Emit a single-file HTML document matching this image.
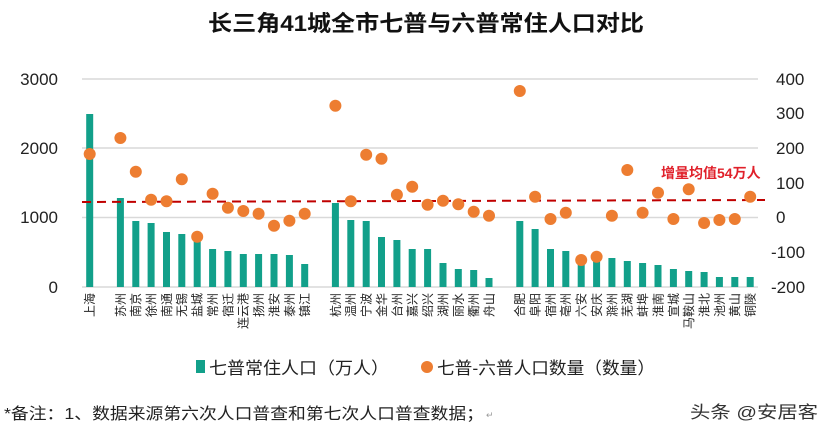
<!DOCTYPE html>
<html><head><meta charset="utf-8"><style>
html,body{margin:0;padding:0;background:#fff;}
svg{display:block;font-family:"Liberation Sans","Noto Sans CJK SC",sans-serif;}
</style></head><body>
<svg width="831" height="436" viewBox="0 0 831 436" xmlns="http://www.w3.org/2000/svg">
<rect width="831" height="436" fill="#fff"/>
<text x="426" y="31" font-size="22" font-weight="bold" text-anchor="middle" fill="#111" textLength="436" lengthAdjust="spacingAndGlyphs">长三角41城全市七普与六普常住人口对比</text>
<g stroke="#d9d9d9" stroke-width="1.5">
<line x1="82" y1="79" x2="758" y2="79"/><line x1="82" y1="148" x2="758" y2="148"/>
<line x1="82" y1="217.5" x2="758" y2="217.5"/><line x1="82" y1="287" x2="758" y2="287"/>
</g>
<g font-size="17" fill="#222" text-anchor="end">
<text x="58" y="85">3000</text><text x="58" y="154">2000</text><text x="58" y="223">1000</text><text x="58" y="293">0</text>
</g>
<g font-size="17" fill="#222">
<text x="776" y="85">400</text><text x="776" y="119">300</text><text x="776" y="154">200</text><text x="776" y="189">100</text><text x="776" y="223">0</text><text x="771" y="258">-100</text><text x="771" y="293">-200</text>
</g>
<g fill="#12a08a">
<rect x="86.2" y="114" width="7" height="173"/>
<rect x="116.9" y="198" width="7" height="89"/><rect x="132.3" y="221" width="7" height="66"/><rect x="147.6" y="223" width="7" height="64"/><rect x="163" y="232" width="7" height="55"/><rect x="178.3" y="234" width="7" height="53"/><rect x="193.7" y="240" width="7" height="47"/><rect x="209.1" y="249" width="7" height="38"/><rect x="224.4" y="251" width="7" height="36"/><rect x="239.8" y="254" width="7" height="33"/><rect x="255.1" y="254" width="7" height="33"/><rect x="270.5" y="254" width="7" height="33"/><rect x="285.9" y="255" width="7" height="32"/><rect x="301.2" y="264" width="7" height="23"/>
<rect x="331.9" y="203" width="7" height="84"/><rect x="347.3" y="220" width="7" height="67"/><rect x="362.7" y="221" width="7" height="66"/><rect x="378" y="237" width="7" height="50"/><rect x="393.4" y="240" width="7" height="47"/><rect x="408.7" y="249" width="7" height="38"/><rect x="424.1" y="249" width="7" height="38"/><rect x="439.5" y="263" width="7" height="24"/><rect x="454.8" y="269" width="7" height="18"/><rect x="470.2" y="270" width="7" height="17"/><rect x="485.5" y="278" width="7" height="9"/>
<rect x="516.3" y="221" width="7" height="66"/><rect x="531.6" y="229" width="7" height="58"/><rect x="547" y="249" width="7" height="38"/><rect x="562.3" y="251" width="7" height="36"/><rect x="577.7" y="256" width="7" height="31"/><rect x="593.1" y="258" width="7" height="29"/><rect x="608.4" y="258" width="7" height="29"/><rect x="623.8" y="261" width="7" height="26"/><rect x="639.1" y="263" width="7" height="24"/><rect x="654.5" y="265" width="7" height="22"/><rect x="669.9" y="269" width="7" height="18"/><rect x="685.2" y="271" width="7" height="16"/><rect x="700.6" y="272" width="7" height="15"/><rect x="715.9" y="277" width="7" height="10"/><rect x="731.3" y="277" width="7" height="10"/><rect x="746.7" y="277" width="7" height="10"/>
</g>
<line x1="82" y1="202" x2="765" y2="200" stroke="#c00000" stroke-width="2" stroke-dasharray="9,6"/>
<text x="661" y="178" font-size="14" font-weight="bold" fill="#e0202a">增量均值54万人</text>
<g fill="#ed7d31">
<circle cx="89.7" cy="154" r="6"/>
<circle cx="120.4" cy="138" r="6"/><circle cx="135.8" cy="171.7" r="6"/><circle cx="151.1" cy="199.7" r="6"/><circle cx="166.5" cy="201.3" r="6"/><circle cx="181.8" cy="179.3" r="6"/><circle cx="197.2" cy="236.7" r="6"/><circle cx="212.6" cy="193.7" r="6"/><circle cx="227.9" cy="207.7" r="6"/><circle cx="243.3" cy="211" r="6"/><circle cx="258.6" cy="213.7" r="6"/><circle cx="274" cy="225.7" r="6"/><circle cx="289.4" cy="220.7" r="6"/><circle cx="304.7" cy="213.7" r="6"/>
<circle cx="335.4" cy="105.7" r="6"/><circle cx="350.8" cy="201.3" r="6"/><circle cx="366.2" cy="154.7" r="6"/><circle cx="381.5" cy="158.7" r="6"/><circle cx="396.9" cy="194.7" r="6"/><circle cx="412.2" cy="186.7" r="6"/><circle cx="427.6" cy="204.7" r="6"/><circle cx="443" cy="200.7" r="6"/><circle cx="458.3" cy="204.3" r="6"/><circle cx="473.7" cy="211.7" r="6"/><circle cx="489" cy="215.7" r="6"/>
<circle cx="519.8" cy="91" r="6"/><circle cx="535.1" cy="196.7" r="6"/><circle cx="550.5" cy="219" r="6"/><circle cx="565.8" cy="212.7" r="6"/><circle cx="581.2" cy="260" r="6"/><circle cx="596.6" cy="256.7" r="6"/><circle cx="611.9" cy="215.7" r="6"/><circle cx="627.3" cy="170" r="6"/><circle cx="642.6" cy="212.7" r="6"/><circle cx="658" cy="192.7" r="6"/><circle cx="673.4" cy="219" r="6"/><circle cx="688.7" cy="189.3" r="6"/><circle cx="704.1" cy="223" r="6"/><circle cx="719.4" cy="220" r="6"/><circle cx="734.8" cy="219" r="6"/><circle cx="750.2" cy="196.7" r="6"/>
</g>
<g font-size="12" fill="#222" text-anchor="end">
<text transform="translate(94,293) rotate(-90)">上海</text>
<text transform="translate(124.8,293) rotate(-90)">苏州</text><text transform="translate(140.2,293) rotate(-90)">南京</text><text transform="translate(155.5,293) rotate(-90)">徐州</text><text transform="translate(170.9,293) rotate(-90)">南通</text><text transform="translate(186.2,293) rotate(-90)">无锡</text><text transform="translate(201.6,293) rotate(-90)">盐城</text><text transform="translate(217,293) rotate(-90)">常州</text><text transform="translate(232.3,293) rotate(-90)">宿迁</text><text transform="translate(247.7,293) rotate(-90)">连云港</text><text transform="translate(263,293) rotate(-90)">扬州</text><text transform="translate(278.4,293) rotate(-90)">淮安</text><text transform="translate(293.8,293) rotate(-90)">泰州</text><text transform="translate(309.1,293) rotate(-90)">镇江</text>
<text transform="translate(339.8,293) rotate(-90)">杭州</text><text transform="translate(355.2,293) rotate(-90)">温州</text><text transform="translate(370.6,293) rotate(-90)">宁波</text><text transform="translate(385.9,293) rotate(-90)">金华</text><text transform="translate(401.3,293) rotate(-90)">台州</text><text transform="translate(416.6,293) rotate(-90)">嘉兴</text><text transform="translate(432,293) rotate(-90)">绍兴</text><text transform="translate(447.4,293) rotate(-90)">湖州</text><text transform="translate(462.7,293) rotate(-90)">丽水</text><text transform="translate(478.1,293) rotate(-90)">衢州</text><text transform="translate(493.4,293) rotate(-90)">舟山</text>
<text transform="translate(524.2,293) rotate(-90)">合肥</text><text transform="translate(539.5,293) rotate(-90)">阜阳</text><text transform="translate(554.9,293) rotate(-90)">宿州</text><text transform="translate(570.2,293) rotate(-90)">亳州</text><text transform="translate(585.6,293) rotate(-90)">六安</text><text transform="translate(601,293) rotate(-90)">安庆</text><text transform="translate(616.3,293) rotate(-90)">滁州</text><text transform="translate(631.7,293) rotate(-90)">芜湖</text><text transform="translate(647,293) rotate(-90)">蚌埠</text><text transform="translate(662.4,293) rotate(-90)">淮南</text><text transform="translate(677.8,293) rotate(-90)">宣城</text><text transform="translate(693.1,293) rotate(-90)">马鞍山</text><text transform="translate(708.5,293) rotate(-90)">淮北</text><text transform="translate(723.8,293) rotate(-90)">池州</text><text transform="translate(739.2,293) rotate(-90)">黄山</text><text transform="translate(754.6,293) rotate(-90)">铜陵</text>
</g>
<rect x="196" y="360" width="9" height="13" fill="#12a08a"/>
<text x="209" y="374" font-size="17" fill="#222" textLength="180" lengthAdjust="spacingAndGlyphs">七普常住人口（万人）</text>
<circle cx="427" cy="367" r="6" fill="#ed7d31"/>
<text x="437" y="374" font-size="17" fill="#222" textLength="218" lengthAdjust="spacingAndGlyphs">七普-六普人口数量（数量）</text>
<text x="4" y="419" font-size="16" fill="#222" textLength="480" lengthAdjust="spacingAndGlyphs">*备注：1、数据来源第六次人口普查和第七次人口普查数据；</text>
<text x="486" y="418" font-size="9" fill="#999">↵</text>
<text x="690" y="418" font-size="17" fill="#333" textLength="128" lengthAdjust="spacingAndGlyphs">头条 @安居客</text>
</svg>
</body></html>
